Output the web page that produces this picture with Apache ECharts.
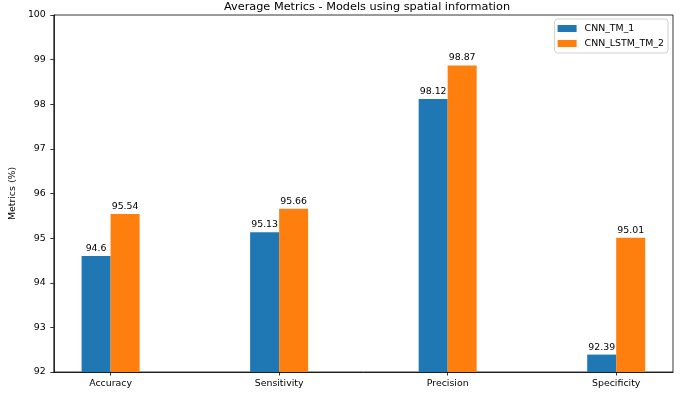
<!DOCTYPE html>
<html>
<head>
<meta charset="utf-8">
<script src="https://cdn.jsdelivr.net/npm/echarts@6/dist/echarts.min.js"></script>
<style>
	html,body{margin:0;padding:0;background:#fff;}
	#chart{width:694px;height:393px;}
</style>
</head>
<body>
<div id="chart"></div>
<script>
/*数据*/
var categories = ['Accuracy', 'Sensitivity', 'Precision', 'Specificity'];
var cnnTm1 = [94.6, 95.13, 98.12, 92.39];
var cnnLstmTm2 = [95.54, 95.66, 98.87, 95.01];
var seriesNames = ['CNN_TM_1', 'CNN_LSTM_TM_2'];
var yTicks = [92, 93, 94, 95, 96, 97, 98, 99, 100];

function toPoints(arr){
	var pts = [];
	for (var i = 0; i < arr.length; i++) {
		pts.push([i, arr[i]]);
	}
	return pts;
}

var font = 'DejaVu Sans';
var fs = 9.4;
var chart = echarts.init(document.getElementById('chart'));
var option = {
	animation : false,
	color : [ '#1f77b4', '#ff7f0e' ],
	textStyle : { fontFamily : font },
	title : {
		text : 'Average Metrics - Models using spatial information',
		left : 362,
		textAlign : 'center',
		top : -3,
		textStyle : { fontFamily : font, fontSize : 11.3, fontWeight : 'normal', color : '#000' }
	},
	legend : {
		orient : 'vertical',
		right : 26,
		top : 19,
		padding : [ 5, 4, 5, 3 ],
		itemGap : 6,
		itemWidth : 19,
		itemHeight : 7,
		borderColor : '#d0d0d0',
		borderWidth : 1,
		borderRadius : 3,
		icon : 'rect',
		textStyle : { fontFamily : font, fontSize : fs, color : '#000', padding : [ 0, 0, 0, 3 ] },
		data : seriesNames
	},
	grid : {
		left : 51,
		right : 21,
		top : 15,
		bottom : 21,
		show : true,
		borderColor : '#000',
		borderWidth : 0.8
	},
	xAxis : {
		type : 'value',
		min : -0.337,
		max : 3.337,
		splitLine : { show : false },
		axisLine : { show : true, onZero : false, lineStyle : { color : '#000', width : 0.8 } },
		axisTick : { show : true, length : 3.5, customValues : [0, 1, 2, 3], lineStyle : { color : '#000', width : 0.8 } },
		axisLabel : {
			customValues : [0, 1, 2, 3],
			margin : 7,
			fontFamily : font,
			fontSize : fs,
			color : '#000',
			formatter : function(value){
				return categories[Math.round(value)];
			}
		}
	},
	yAxis : {
		type : 'value',
		min : 92,
		max : 100,
		interval : 1,
		name : 'Metrics (%)',
		nameLocation : 'middle',
		nameGap : 33,
		nameTextStyle : { fontFamily : font, fontSize : fs, color : '#000' },
		splitLine : { show : false },
		axisLine : { show : true, onZero : false, lineStyle : { color : '#000', width : 0.8 } },
		axisTick : { show : true, length : 3.5, lineStyle : { color : '#000', width : 0.8 } },
		axisLabel : {
			margin : 8,
			fontFamily : font,
			fontSize : fs,
			color : '#000',
			formatter : function(v){ return yTicks.indexOf(v) >= 0 ? String(v) : ''; }
		}
	},
	series : [ {
		name : seriesNames[0],
		type : 'bar',
		data : toPoints(cnnTm1),
		barWidth : 29,
		barGap : '0%',
		label : {
			show : true,
			position : 'top',
			distance : 3,
			fontFamily : font,
			fontSize : fs,
			color : '#000',
			formatter : function(p){ return String(p.value[1]); }
		}
	}, {
		name : seriesNames[1],
		type : 'bar',
		data : toPoints(cnnLstmTm2),
		barWidth : 29,
		barGap : '0%',
		label : {
			show : true,
			position : 'top',
			distance : 3,
			fontFamily : font,
			fontSize : fs,
			color : '#000',
			formatter : function(p){ return String(p.value[1]); }
		}
	} ]
};
chart.setOption(option);
</script>
</body>
</html>
